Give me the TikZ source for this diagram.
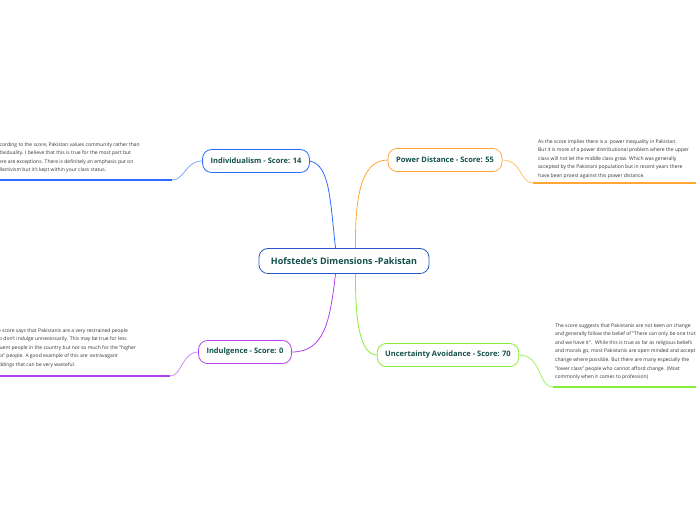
\documentclass[tikz,border=0pt]{standalone}
\usepackage{fontspec}
\setmainfont{Open Sans}
\definecolor{teal}{HTML}{12504A}
\definecolor{cblue}{HTML}{2F6BFF}
\definecolor{corange}{HTML}{FFA733}
\definecolor{cpurple}{HTML}{B040F0}
\definecolor{cgreen}{HTML}{88EE33}
\begin{document}
\begin{tikzpicture}
[x=1pt, y=-1pt,
topic/.style={rectangle, rounded corners=9pt, draw=#1, thick, fill=white, text=teal, inner xsep=8pt, minimum height=23pt, font=\fontsize{7.5}{9}\selectfont\bfseries},
note/.style={anchor=north west, align=left, text=black!80, inner sep=0pt, font=\fontsize{5}{8.6}\selectfont},
branch/.style={draw=#1, thick},
line/.style={draw=#1, very thick}]
\useasboundingbox (0,0) rectangle (696,520);
\clip (0,0) rectangle (696,520);

\node[topic=cblue!80!black, minimum height=25pt, inner xsep=12pt, font=\fontsize{9}{11}\selectfont\bfseries] (main) at (344,261) {Hofstede's Dimensions -Pakistan};
\node[topic=cblue] (indiv) at (256,161) {Individualism - Score: 14};
\node[topic=corange] (power) at (445,160) {Power Distance - Score: 55};
\node[topic=cpurple] (indul) at (245,352) {Indulgence - Score: 0};
\node[topic=cgreen] (uncert) at (448,355) {Uncertainty Avoidance - Score: 70};

\coordinate (indivend) at (172,180);
\coordinate (powerend) at (533,183);
\coordinate (indulend) at (170,376);
\coordinate (uncertend) at (553,387);

% branches from the centre
\draw[branch=cblue] (main.north west)+(77,0) .. controls (330,200) and (330,165) .. (indiv.east);
\draw[branch=corange] (main.north west)+(97,0) .. controls (355,200) and (360,160) .. (power.west);
\draw[branch=cpurple] (main.south west)+(77,0) .. controls (330,320) and (325,352) .. (indul.east);
\draw[branch=cgreen] (main.south west)+(97,0) .. controls (355,320) and (360,355) .. (uncert.west);

% notes
\node[note] (indivnote) at (-6,142) {According to the score, Pakistan values community rather than\\individuality. I believe that this is true for the most part but\\there are exceptions. There is definitely an emphasis put on\\collectivism but it's kept within your class status.};
\node[note] (powernote) at (538,139) {As the score implies there is a \ power inequality in Pakistan.\\But it is more of a power distributional problem where the upper\\class will not let the middle class grow. Which was generally\\accepted by the Pakistani population but in recent years there\\have been proest against this power distance.};
\node[note] (indulnote) at (-8,328) {The score says that Pakistanis are a very restrained people\\who don't indulge unnecessarily. This may be true for less\\affluent people in the country but not so much for the "higher\\class" people. A good example of this are \ extravagant\\weddings that can be very wasteful.};
\node[note] (uncertnote) at (555,323) {The score suggests that Pakistanis are not keen on change\\and generally follow the belief of "There can only be one truth\\and we have it". \ While this is true as far as religious beliefs\\and morals go, most Pakistanis are open minded and accept\\change where possible. But there are many especially the\\"lower class" people who cannot afford change. (Most\\commonly when it comes to profession)};

% leaders to the notes
\draw[branch=cblue!60] (indiv.west) .. controls (185,161) and (185,180) .. (indivend);
\draw[line=cblue] (indivend) -- (0,180);
\draw[branch=corange!70] (power.east) .. controls (522,160) and (520,183) .. (powerend);
\draw[line=corange] (powerend) -- (696,183);
\draw[branch=cpurple!60] (indul.west) .. controls (182,352) and (182,376) .. (indulend);
\draw[line=cpurple] (indulend) -- (0,376);
\draw[branch=cgreen!80] (uncert.east) .. controls (542,355) and (538,387) .. (uncertend);
\draw[line=cgreen] (uncertend) -- (696,387);
\end{tikzpicture}
\end{document}
